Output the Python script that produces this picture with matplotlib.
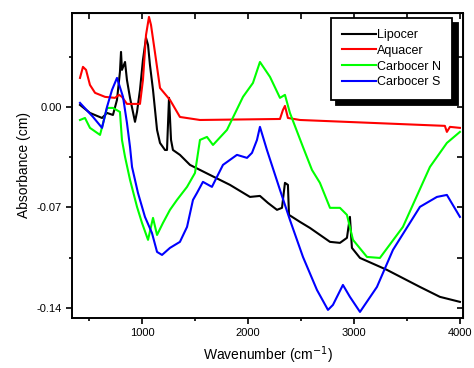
import numpy as np
import matplotlib
matplotlib.use("Agg")
import matplotlib.pyplot as plt
from matplotlib.ticker import MultipleLocator, FormatStrFormatter

plt.rcParams['font.family'] = ['Liberation Sans', 'DejaVu Sans']
plt.rcParams['axes.unicode_minus'] = False

# (wavenumber, absorbance)
lipo_x = [415, 509, 623, 670, 726, 764, 792, 802, 811, 840, 858, 887, 934, 953, 981, 1009, 1038,
          1057, 1075, 1104, 1123, 1142, 1170, 1217, 1236, 1255, 1274, 1292, 1358, 1453, 1642, 1830,
          2019, 2113, 2189, 2274, 2321, 2349, 2377, 2387, 2491, 2585, 2774, 2868, 2934, 2962, 2981,
          3057, 3311, 3623, 3811, 4000]
lipo_y = [0.0014, -0.0042, -0.0077, -0.0042, -0.0056, 0.0049, 0.0244, 0.0383, 0.0258, 0.0313,
          0.0188, 0.0063, -0.0104, -0.0035, 0.0118, 0.0327, 0.0481, 0.0432, 0.0293, 0.0118,
          -0.0021, -0.0160, -0.0251, -0.0300, -0.0300, 0.0063, -0.0230, -0.0300, -0.0334, -0.0404,
          -0.0474, -0.0543, -0.0627, -0.0620, -0.0669, -0.0717, -0.0703, -0.0529, -0.0543, -0.0752,
          -0.0801, -0.0843, -0.0940, -0.0947, -0.0912, -0.0766, -0.0982, -0.1052, -0.1135, -0.1254,
          -0.1323, -0.1358]

aqua_x = [415, 443, 472, 509, 557, 651, 745, 783, 811, 858, 981, 1009, 1038, 1066, 1085, 1123,
          1170, 1264, 1358, 1547, 2302, 2330, 2349, 2377, 2491, 3623, 3858, 3877, 3906, 4000]
aqua_y = [0.0202, 0.0279, 0.0258, 0.0153, 0.0098, 0.0070, 0.0063, 0.0084, 0.0070, 0.0021, 0.0021,
          0.0188, 0.0501, 0.0627, 0.0571, 0.0376, 0.0132, 0.0049, -0.0070, -0.0091, -0.0084,
          -0.0021, 0.0007, -0.0077, -0.0091, -0.0125, -0.0132, -0.0174, -0.0139, -0.0146]

carbn_x = [415, 462, 509, 604, 670, 726, 792, 811, 840, 887, 953, 1000, 1057, 1104, 1142, 1198,
           1264, 1330, 1425, 1500, 1547, 1613, 1670, 1802, 1953, 2047, 2113, 2208, 2302, 2349,
           2396, 2519, 2604, 2679, 2774, 2868, 2934, 2991, 3123, 3245, 3462, 3717, 3877, 4000]
carbn_y = [-0.0091, -0.0077, -0.0146, -0.0195, -0.0007, -0.0007, -0.0035, -0.0230, -0.0348,
           -0.0508, -0.0696, -0.0808, -0.0926, -0.0773, -0.0892, -0.0808, -0.0717, -0.0648,
           -0.0557, -0.0460, -0.0230, -0.0209, -0.0265, -0.0160, 0.0070, 0.0167, 0.0313, 0.0209,
           0.0063, 0.0084, -0.0042, -0.0279, -0.0439, -0.0529, -0.0703, -0.0703, -0.0752, -0.0926,
           -0.1045, -0.1052, -0.0836, -0.0418, -0.0251, -0.0174]

carbs_x = [415, 538, 623, 670, 717, 764, 821, 858, 887, 906, 962, 1028, 1094, 1142, 1189, 1264,
           1358, 1425, 1481, 1519, 1575, 1660, 1764, 1896, 1991, 2038, 2085, 2113, 2179, 2302,
           2396, 2519, 2651, 2755, 2802, 2896, 2962, 3057, 3217, 3368, 3623, 3783, 3877, 4000]
carbs_y = [0.0028, -0.0070, -0.0146, 0.0, 0.0118, 0.0202, 0.0070, -0.0111, -0.0279, -0.0418,
           -0.0599, -0.0766, -0.0878, -0.1010, -0.1031, -0.0982, -0.0940, -0.0836, -0.0648,
           -0.0599, -0.0522, -0.0557, -0.0404, -0.0334, -0.0355, -0.0320, -0.0230, -0.0139,
           -0.0300, -0.0578, -0.0787, -0.1045, -0.1275, -0.1414, -0.1379, -0.1240, -0.1323,
           -0.1428, -0.1254, -0.0996, -0.0696, -0.0627, -0.0613, -0.0766]

fig = plt.figure(figsize=(4.74, 3.68), dpi=100)
ax = fig.add_axes([0.152, 0.136, 0.825, 0.829])

ax.plot(lipo_x, lipo_y, color='black', lw=1.5, label='Lipocer')
ax.plot(aqua_x, aqua_y, color='#ff0000', lw=1.5, label='Aquacer')
ax.plot(carbn_x, carbn_y, color='#00ff00', lw=1.5, label='Carbocer N')
ax.plot(carbs_x, carbs_y, color='#0000ff', lw=1.5, label='Carbocer S')

ax.set_xlim(340, 4030)
ax.set_ylim(-0.147, 0.0655)

ax.xaxis.set_major_locator(MultipleLocator(1000))
ax.xaxis.set_minor_locator(MultipleLocator(500))
ax.yaxis.set_major_locator(MultipleLocator(0.07))
ax.yaxis.set_minor_locator(MultipleLocator(0.035))
ax.yaxis.set_major_formatter(FormatStrFormatter('%.2f'))
ax.tick_params(which='both', direction='out', width=1.2, labelsize=8, colors='black')
ax.tick_params(which='major', length=4)
ax.tick_params(which='minor', length=2.5)

for s in ax.spines.values():
    s.set_linewidth(1.4)

top = ax.secondary_xaxis('top')
top.xaxis.set_major_locator(MultipleLocator(500))
top.tick_params(direction='in', length=4, width=1.2, labeltop=False)
right = ax.secondary_yaxis('right')
right.yaxis.set_major_locator(MultipleLocator(0.035))
right.tick_params(direction='in', length=4, width=1.2, labelright=False)

ax.set_xlabel('Wavenumber (cm$^{-1}$)', fontsize=10)
ax.set_ylabel('Absorbance (cm)', fontsize=10)

leg = ax.legend(loc='upper right', bbox_to_anchor=(0.972, 0.984), fontsize=9,
                handlelength=2.7, handletextpad=0.1, borderpad=0.9, labelspacing=0.3,
                fancybox=False, shadow={'color': 'black', 'alpha': 1, 'ox': 4, 'oy': -4},
                framealpha=1, borderaxespad=0)
leg.get_frame().set_edgecolor('black')
leg.get_frame().set_linewidth(1.3)

fig.savefig('out.png', dpi=100)
